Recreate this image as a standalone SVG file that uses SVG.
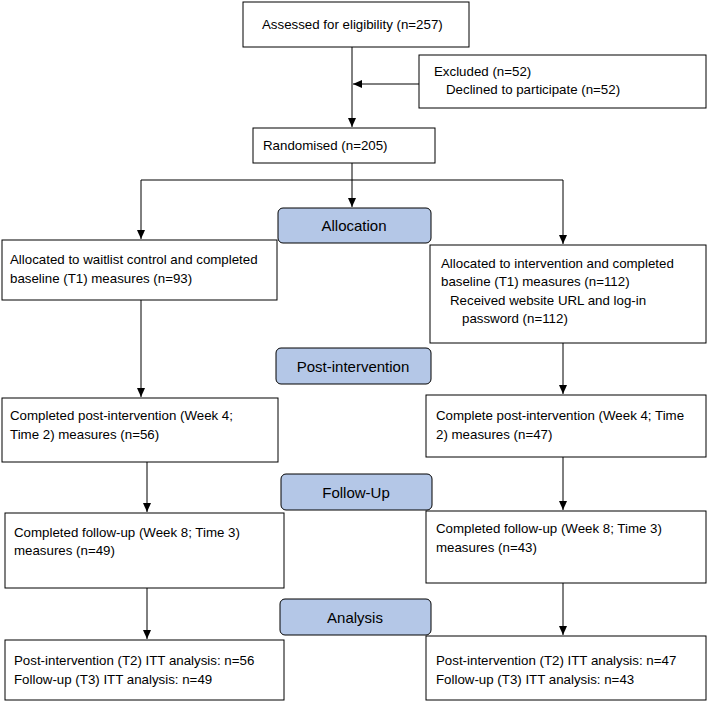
<svg xmlns="http://www.w3.org/2000/svg" width="709" height="710" viewBox="0 0 709 710">
<defs><marker id="a" markerWidth="10" markerHeight="10" refX="9" refY="5" orient="auto" markerUnits="userSpaceOnUse"><path d="M0,1 L9,5 L0,9 z" fill="#000"/></marker></defs>
<style>
.b{fill:#fff;stroke:#000;stroke-width:1}
.s{fill:#b4c7e7;stroke:#000;stroke-width:1}
text{font-family:"Liberation Sans",Arial,sans-serif;font-size:13.3px;fill:#000}
.h{font-size:15px;text-anchor:middle}
.c line,.c polyline{stroke:#000;stroke-width:1;fill:none}
</style>
<rect width="709" height="710" fill="#fff"/>
<g class="c">
<line x1="352" y1="47" x2="352" y2="127" marker-end="url(#a)"/>
<line x1="419" y1="84" x2="353" y2="84" marker-end="url(#a)"/>
<line x1="352" y1="163" x2="352" y2="207" marker-end="url(#a)"/>
<line x1="141" y1="180" x2="563" y2="180"/>
<line x1="141" y1="180" x2="141" y2="239" marker-end="url(#a)"/>
<line x1="563" y1="180" x2="563" y2="244" marker-end="url(#a)"/>
<line x1="141" y1="300" x2="141" y2="397" marker-end="url(#a)"/>
<line x1="563" y1="343" x2="563" y2="394" marker-end="url(#a)"/>
<line x1="147" y1="462" x2="147" y2="512" marker-end="url(#a)"/>
<line x1="563" y1="457" x2="563" y2="510" marker-end="url(#a)"/>
<line x1="147" y1="588" x2="147" y2="639" marker-end="url(#a)"/>
<line x1="563" y1="583" x2="563" y2="635" marker-end="url(#a)"/>
</g>
<g id="n1"><rect class="b" x="243" y="2" width="226" height="45"/><text x="262" y="29">Assessed for eligibility (n=257)</text></g>
<g id="n2"><rect class="b" x="419" y="55" width="287" height="53"/><text x="434" y="76">Excluded (n=52)</text><text x="446" y="94">Declined to participate (n=52)</text></g>
<g id="n3"><rect class="b" x="253" y="128" width="182" height="35"/><text x="263" y="150">Randomised (n=205)</text></g>
<g id="s1"><rect class="s" x="278" y="208" width="153" height="35" rx="5"/><text class="h" x="354" y="231">Allocation</text></g>
<g id="n4"><rect class="b" x="2" y="240" width="275" height="60"/><text x="10" y="264">Allocated to waitlist control and completed</text><text x="10" y="283">baseline (T1) measures (n=93)</text></g>
<g id="n5"><rect class="b" x="430" y="245" width="276" height="98"/><text x="441" y="268">Allocated to intervention and completed</text><text x="441" y="286">baseline (T1) measures (n=112)</text><text x="450" y="305">Received website URL and log-in</text><text x="462" y="323">password (n=112)</text></g>
<g id="s2"><rect class="s" x="276" y="348" width="155" height="36" rx="5"/><text class="h" x="353" y="372">Post-intervention</text></g>
<g id="n6"><rect class="b" x="2" y="398" width="276" height="64"/><text x="10" y="420">Completed post-intervention (Week 4;</text><text x="10" y="439">Time 2) measures (n=56)</text></g>
<g id="n7"><rect class="b" x="426" y="395" width="280" height="62"/><text x="436" y="420">Complete post-intervention (Week 4; Time</text><text x="436" y="439">2) measures (n=47)</text></g>
<g id="s3"><rect class="s" x="281" y="474" width="151" height="36" rx="5"/><text class="h" x="356" y="498">Follow-Up</text></g>
<g id="n8"><rect class="b" x="5" y="513" width="279" height="75"/><text x="14" y="537">Completed follow-up (Week 8; Time 3)</text><text x="14" y="555">measures (n=49)</text></g>
<g id="n9"><rect class="b" x="426" y="511" width="280" height="72"/><text x="436" y="533">Completed follow-up (Week 8; Time 3)</text><text x="436" y="552">measures (n=43)</text></g>
<g id="s4"><rect class="s" x="280" y="599" width="151" height="36" rx="5"/><text class="h" x="355" y="623">Analysis</text></g>
<g id="n10"><rect class="b" x="5" y="640" width="279" height="60"/><text x="14" y="665">Post-intervention (T2) ITT analysis: n=56</text><text x="14" y="684">Follow-up (T3) ITT analysis: n=49</text></g>
<g id="n11"><rect class="b" x="426" y="636" width="280" height="64"/><text x="436" y="665">Post-intervention (T2) ITT analysis: n=47</text><text x="436" y="684">Follow-up (T3) ITT analysis: n=43</text></g>
</svg>
